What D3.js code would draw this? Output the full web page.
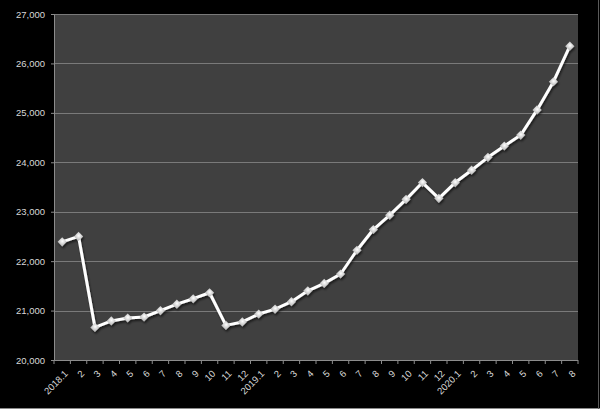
<!DOCTYPE html>
<html>
<head>
<meta charset="utf-8">
<script src="https://cdn.jsdelivr.net/npm/d3@7"></script>
<style>
  html, body { margin: 0; padding: 0; background: #000; }
  svg { display: block; }
</style>
</head>
<body>
<svg id="chart" width="600" height="409"></svg>
<script>
const categories = ["2018.1","2","3","4","5","6","7","8","9","10","11","12",
                    "2019.1","2","3","4","5","6","7","8","9","10","11","12",
                    "2020.1","2","3","4","5","6","7","8"];
const values = [22390, 22500, 20660, 20790, 20850, 20870, 21000, 21130, 21240, 21360, 20700, 20770,
                20930, 21030, 21180, 21400, 21550, 21740, 22220, 22640, 22930, 23250, 23590, 23270,
                23590, 23840, 24100, 24330, 24550, 25060, 25630, 26350];
const yTicks = [20000, 21000, 22000, 23000, 24000, 25000, 26000, 27000];

const svg = d3.select("#chart");
const W = 600, H = 409;
const plot = { left: 54, top: 14, right: 578, bottom: 360 };

svg.append("rect").attr("width", W).attr("height", H).attr("fill", "#000");
// frame shadow lines
svg.append("line").attr("x1", 0).attr("x2", W).attr("y1", H - 0.5).attr("y2", H - 0.5)
  .attr("stroke", "#8a8a8a").attr("stroke-width", 1);
svg.append("line").attr("x1", W - 1.5).attr("x2", W - 1.5).attr("y1", 0).attr("y2", H)
  .attr("stroke", "#5a5a5a").attr("stroke-width", 1);

const keys = categories.map((c, i) => i);
const x = d3.scaleBand().domain(keys).range([plot.left, plot.right]).padding(0);
const y = d3.scaleLinear().domain([20000, 27000]).range([plot.bottom, plot.top]);

svg.append("rect")
  .attr("x", plot.left).attr("y", plot.top)
  .attr("width", plot.right - plot.left).attr("height", plot.bottom - plot.top)
  .attr("fill", "#404040");

// gridlines
svg.append("g").selectAll("line").data(yTicks.slice(1)).join("line")
  .attr("x1", plot.left).attr("x2", plot.right)
  .attr("y1", d => Math.round(y(d)) + 0.5).attr("y2", d => Math.round(y(d)) + 0.5)
  .attr("stroke", "#7a7a7a").attr("stroke-width", 1);

const fontFam = "'Liberation Sans', Arial, sans-serif";
const textCol = "#d8d8d8";
const axisCol = "#8c8c8c";

// Y axis
const yAxis = svg.append("g")
  .attr("transform", `translate(${plot.left},0)`)
  .call(d3.axisLeft(y).tickValues(yTicks).tickSize(3).tickPadding(6)
        .tickFormat(d3.format(",")));
yAxis.select(".domain").attr("stroke", axisCol);
yAxis.selectAll(".tick line").attr("stroke", axisCol);
yAxis.selectAll("text").attr("fill", textCol).style("font-family", fontFam).style("font-size", "9.5px");

// X axis: ticks at band boundaries
const xAxisG = svg.append("g").attr("transform", `translate(0,${plot.bottom})`);
xAxisG.append("line").attr("x1", plot.left).attr("x2", plot.right).attr("y1", 0.5).attr("y2", 0.5)
  .attr("stroke", axisCol);
const bounds = d3.range(categories.length + 1).map(i => plot.left + i * x.bandwidth());
xAxisG.selectAll("line.tk").data(bounds).join("line").attr("class", "tk")
  .attr("x1", d => d).attr("x2", d => d).attr("y1", 0).attr("y2", 4)
  .attr("stroke", axisCol);
xAxisG.selectAll("text").data(keys).join("text")
  .attr("transform", d => `translate(${x(d) + x.bandwidth() / 2 + 4},${12}) rotate(-45)`)
  .attr("text-anchor", "end")
  .attr("dy", "0.35em")
  .attr("fill", textCol)
  .style("font-family", fontFam).style("font-size", "9.5px")
  .text(d => categories[d]);

// shadow filter & marker gradient
const defs = svg.append("defs");
const f = defs.append("filter").attr("id", "sh").attr("x", "-20%").attr("y", "-20%").attr("width", "140%").attr("height", "140%");
f.append("feGaussianBlur").attr("in", "SourceAlpha").attr("stdDeviation", 1.2).attr("result", "b");
f.append("feOffset").attr("in", "b").attr("dx", 1).attr("dy", 1.5).attr("result", "o");
f.append("feComponentTransfer").attr("in", "o").attr("result", "o2")
  .append("feFuncA").attr("type", "linear").attr("slope", 0.6);
const fm = f.append("feMerge");
fm.append("feMergeNode").attr("in", "o2");
fm.append("feMergeNode").attr("in", "SourceGraphic");

const grad = defs.append("radialGradient").attr("id", "mg").attr("cx", "45%").attr("cy", "40%").attr("r", "60%");
grad.append("stop").attr("offset", "0%").attr("stop-color", "#ffffff");
grad.append("stop").attr("offset", "100%").attr("stop-color", "#c4c4c4");

const cx = i => x(i) + x.bandwidth() / 2;
const line = d3.line().x((d, i) => cx(i)).y(d => y(d));

const g = svg.append("g").attr("filter", "url(#sh)");
g.append("path").datum(values)
  .attr("d", line)
  .attr("fill", "none")
  .attr("stroke", "#ffffff")
  .attr("stroke-width", 3)
  .attr("stroke-linejoin", "round");

g.selectAll("path.mk").data(values).join("path").attr("class", "mk")
  .attr("d", d3.symbol().type(d3.symbolSquare).size(42))
  .attr("transform", (d, i) => `translate(${cx(i)},${y(d)}) rotate(45)`)
  .attr("fill", "url(#mg)");
</script>
</body>
</html>
